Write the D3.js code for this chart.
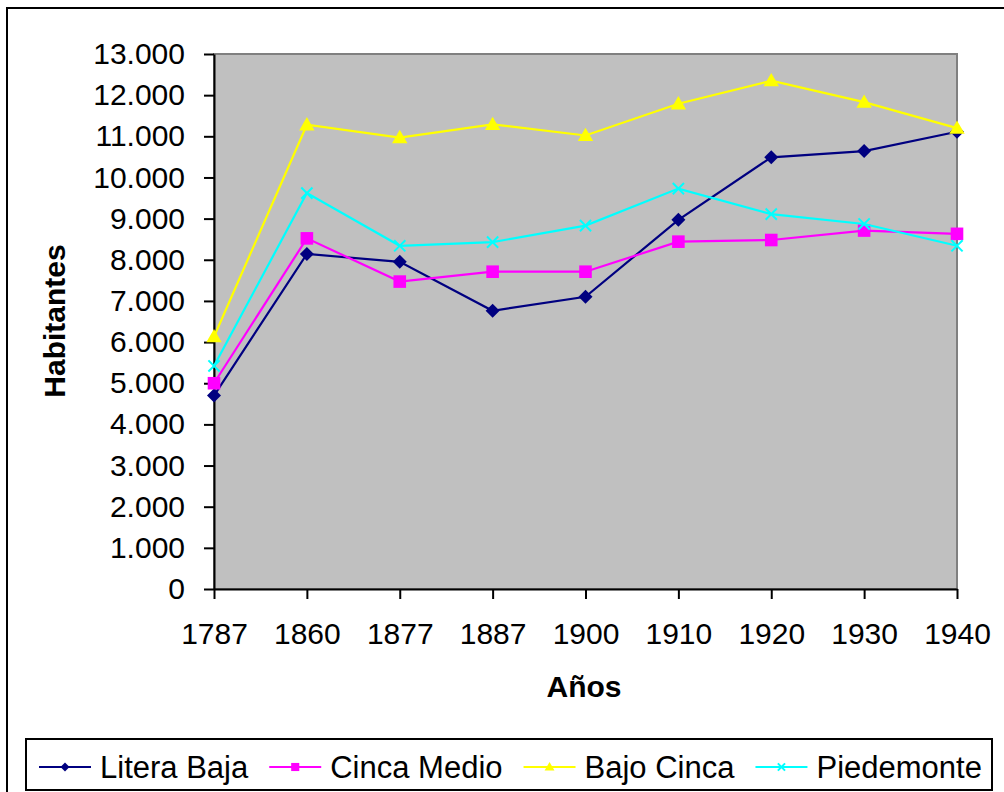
<!DOCTYPE html>
<html>
<head>
<meta charset="utf-8">
<script src="https://cdn.jsdelivr.net/npm/d3@7"></script>
<style>
  body { margin: 0; background: #fff; }
  svg { display: block; font-family: "Liberation Sans", Arial, sans-serif; }
</style>
</head>
<body>
<div id="chart"></div>
<script>
const width = 1004;
const height = 792;

// data
const years = ["1787", "1860", "1877", "1887", "1900", "1910", "1920", "1930", "1940"];
const literaBaja = [4700, 8140, 7950, 6760, 7100, 8970, 10490, 10640, 11110];
const cincaMedio = [5000, 8520, 7470, 7710, 7710, 8440, 8480, 8710, 8630];
const bajoCinca = [6130, 11280, 10970, 11290, 11020, 11790, 12350, 11830, 11200];
const piedemonte = [5420, 9620, 8340, 8430, 8830, 9730, 9110, 8870, 8340];
const seriesNames = ["Litera Baja", "Cinca Medio", "Bajo Cinca", "Piedemonte"];
const yTicks = d3.range(0, 13001, 1000);

const series = [
  {name: seriesNames[0], values: literaBaja, color: "#000080", marker: "diamond"},
  {name: seriesNames[1], values: cincaMedio, color: "#FF00FF", marker: "square"},
  {name: seriesNames[2], values: bajoCinca, color: "#FFFF00", marker: "triangle"},
  {name: seriesNames[3], values: piedemonte, color: "#00FFFF", marker: "cross"}
];

const plot = {left: 214, right: 957, top: 54, bottom: 589};

const svg = d3.select("#chart")
  .append("svg")
  .attr("width", width)
  .attr("height", height);

// outer chart border (runs off the picture at right and bottom)
svg.append("rect")
  .attr("x", 7).attr("y", 8)
  .attr("width", 1020).attr("height", 800)
  .attr("fill", "#fff")
  .attr("stroke", "#000")
  .attr("stroke-width", 2);

const x = d3.scalePoint()
  .domain(years)
  .range([plot.left, plot.right])
  .padding(0);

const y = d3.scaleLinear()
  .domain([0, 13000])
  .range([plot.bottom, plot.top]);

const locale = d3.formatLocale({decimal: ",", thousands: ".", grouping: [3], currency: ["", ""]});
const fmt = locale.format(",");

// plot area
svg.append("rect")
  .attr("x", plot.left).attr("y", plot.top)
  .attr("width", plot.right - plot.left)
  .attr("height", plot.bottom - plot.top)
  .attr("fill", "#C0C0C0")
  .attr("stroke", "#808080")
  .attr("stroke-width", 2);

// axes
const yAxis = svg.append("g")
  .attr("transform", `translate(${plot.left},0)`)
  .call(d3.axisLeft(y).tickValues(yTicks).tickFormat(fmt).tickSize(10).tickSizeOuter(0).tickPadding(19));

const xAxis = svg.append("g")
  .attr("transform", `translate(0,${plot.bottom})`)
  .call(d3.axisBottom(x).tickSize(10).tickSizeOuter(0).tickPadding(24));

[yAxis, xAxis].forEach(function(a) {
  a.selectAll("path, line").attr("stroke", "#000").attr("stroke-width", 2);
  a.selectAll("text")
    .attr("font-family", "'Liberation Sans', Arial, sans-serif")
    .attr("font-size", 30)
    .attr("fill", "#000");
});

// axis titles
svg.append("text")
  .attr("x", 584).attr("y", 697)
  .attr("text-anchor", "middle")
  .attr("font-size", 30)
  .attr("font-weight", "bold")
  .text("Años");

svg.append("text")
  .attr("transform", "translate(65,321) rotate(-90)")
  .attr("text-anchor", "middle")
  .attr("font-size", 30)
  .attr("font-weight", "bold")
  .text("Habitantes");

// marker drawing
function drawMarker(g, type, color, s) {
  if (type === "diamond") {
    g.append("path")
      .attr("d", `M0,${-s}L${s},0L0,${s}L${-s},0Z`)
      .attr("fill", color);
  } else if (type === "square") {
    g.append("rect")
      .attr("x", -s * 0.9).attr("y", -s * 0.9)
      .attr("width", s * 1.8).attr("height", s * 1.8)
      .attr("fill", color);
  } else if (type === "triangle") {
    g.append("path")
      .attr("d", `M0,${-s * 1.1}L${s * 1.1},${s * 0.8}L${-s * 1.1},${s * 0.8}Z`)
      .attr("fill", color);
  } else {
    g.append("path")
      .attr("d", `M${-s * 0.8},${-s * 0.8}L${s * 0.8},${s * 0.8}M${s * 0.8},${-s * 0.8}L${-s * 0.8},${s * 0.8}`)
      .attr("stroke", color)
      .attr("stroke-width", 2)
      .attr("fill", "none");
  }
}

const line = d3.line()
  .x(function(d, i) { return x(years[i]); })
  .y(function(d) { return y(d); });

series.forEach(function(s) {
  const g = svg.append("g");
  g.append("path")
    .datum(s.values)
    .attr("d", line)
    .attr("fill", "none")
    .attr("stroke", s.color)
    .attr("stroke-width", 2.2);
  s.values.forEach(function(v, i) {
    const m = g.append("g").attr("transform", `translate(${x(years[i])},${y(v)})`);
    drawMarker(m, s.marker, s.color, 7);
  });
});

// legend
const legend = svg.append("g");
legend.append("rect")
  .attr("x", 26).attr("y", 739)
  .attr("width", 966).attr("height", 51)
  .attr("fill", "#fff")
  .attr("stroke", "#000")
  .attr("stroke-width", 2);

let lx = 39;
const ly = 767;
series.forEach(function(s) {
  const item = legend.append("g");
  item.append("line")
    .attr("x1", lx).attr("x2", lx + 52)
    .attr("y1", ly).attr("y2", ly)
    .attr("stroke", s.color)
    .attr("stroke-width", 2);
  const m = item.append("g").attr("transform", `translate(${lx + 26},${ly})`);
  drawMarker(m, s.marker, s.color, 4.5);
  const t = item.append("text")
    .attr("x", lx + 61).attr("y", ly + 11)
    .attr("font-size", 31)
    .text(s.name);
  lx = lx + 61 + t.node().getComputedTextLength() + 21;
});
</script>
</body>
</html>
